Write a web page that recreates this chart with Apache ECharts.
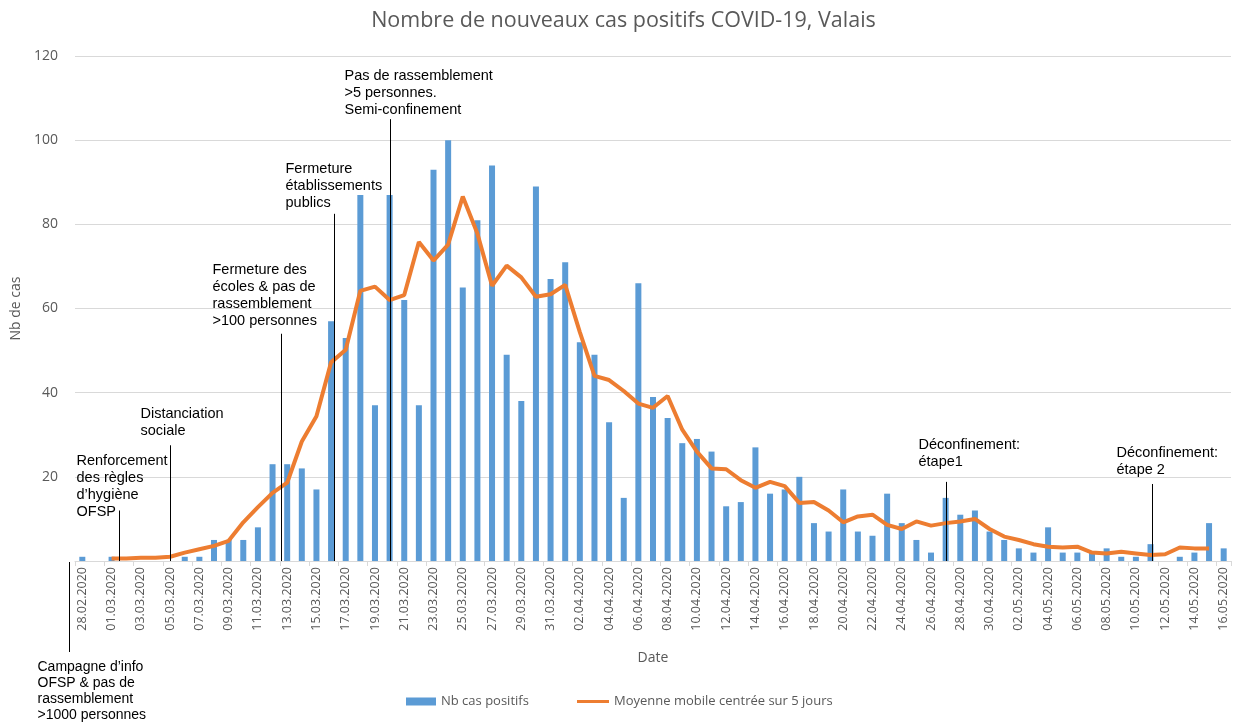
<!DOCTYPE html>
<html>
<head>
<meta charset="utf-8">
<script src="https://cdn.jsdelivr.net/npm/echarts@6/dist/echarts.min.js"></script>
<style>
html,body{margin:0;padding:0;background:#fff;}
#chart{width:1247px;height:722px;}
</style>
</head>
<body>
<div id="chart"></div>
<script>
// ---- Data ----
const dates = [
 "28.02.2020","29.02.2020",
 "01.03.2020","02.03.2020","03.03.2020","04.03.2020","05.03.2020","06.03.2020","07.03.2020","08.03.2020","09.03.2020","10.03.2020",
 "11.03.2020","12.03.2020","13.03.2020","14.03.2020","15.03.2020","16.03.2020","17.03.2020","18.03.2020","19.03.2020","20.03.2020",
 "21.03.2020","22.03.2020","23.03.2020","24.03.2020","25.03.2020","26.03.2020","27.03.2020","28.03.2020","29.03.2020","30.03.2020","31.03.2020",
 "01.04.2020","02.04.2020","03.04.2020","04.04.2020","05.04.2020","06.04.2020","07.04.2020","08.04.2020","09.04.2020","10.04.2020",
 "11.04.2020","12.04.2020","13.04.2020","14.04.2020","15.04.2020","16.04.2020","17.04.2020","18.04.2020","19.04.2020","20.04.2020",
 "21.04.2020","22.04.2020","23.04.2020","24.04.2020","25.04.2020","26.04.2020","27.04.2020","28.04.2020","29.04.2020","30.04.2020",
 "01.05.2020","02.05.2020","03.05.2020","04.05.2020","05.05.2020","06.05.2020","07.05.2020","08.05.2020","09.05.2020","10.05.2020",
 "11.05.2020","12.05.2020","13.05.2020","14.05.2020","15.05.2020","16.05.2020"
];
const newCases = [
 1,0,
 1,0,0,0,0,1,1,5,5,5,
 8,23,23,22,17,57,53,87,37,87,
 62,37,93,100,65,81,94,49,38,89,67,
 71,52,49,33,15,66,39,34,28,29,
 26,13,14,27,16,17,20,9,7,17,
 7,6,16,9,5,2,15,11,12,7,
 5,3,2,8,2,2,2,3,1,1,
 4,0,1,2,9,3
];
const movingAvg = [
 null,null,
 0.6,0.6,0.8,0.8,1.0,2.0,2.8,3.6,4.8,9.2,
 12.8,16.2,18.6,28.4,34.4,47.2,50.2,64.2,65.2,62.0,
 63.2,75.8,71.4,75.2,86.6,77.8,65.4,70.2,67.4,62.8,63.4,
 65.6,54.4,44.0,43.0,40.4,37.4,36.4,39.2,31.2,26.0,
 22.0,21.8,19.2,17.4,18.8,17.8,13.8,14.0,12.0,9.2,
 10.6,11.0,8.6,7.6,9.4,8.4,9.0,9.4,10.0,7.6,
 5.8,5.0,4.0,3.4,3.2,3.4,2.0,1.8,2.2,1.8,
 1.4,1.6,3.2,3.0,3.0,null
];
const yTicks = [0,20,40,60,80,100,120];
const seriesNames = ["Nb cas positifs","Moyenne mobile centrée sur 5 jours"];
const titleText = "Nombre de nouveaux cas positifs COVID-19, Valais";

// annotations: day index (fractional), top value of line, text
const annotations = [
 {day:2.5,  top:12,   text:"Renforcement\ndes règles\nd’hygiène\nOFSP"},
 {day:6.0,  top:27.5, text:"Distanciation\nsociale"},
 {day:13.6, top:54,   text:"Fermeture des\nécoles & pas de\nrassemblement\n>100 personnes"},
 {day:17.2, top:82.5, text:"Fermeture\nétablissements\npublics"},
 {day:21.05,top:105,  text:"Pas de rassemblement\n>5 personnes.\nSemi-confinement"},
 {day:59.0, top:18.8, text:"Déconfinement:\nétape1"},
 {day:73.1, top:18.3, text:"Déconfinement:\nétape 2"}
];
const bottomNote = {day:-0.9, text:"Campagne d’info\nOFSP & pas de\nrassemblement\n>1000 personnes"};

// ---- Layout / style ----
const annLayout = [
 {dx:-43, dy:-58},
 {dx:-30, dy:-40},
 {dx:-69, dy:-72},
 {dx:-49, dy:-53},
 {dx:-46, dy:-52},
 {dx:-28, dy:-45},
 {dx:-36, dy:-39}
];
const GRAY = '#595959';
const FONT = '"Open Sans", sans-serif';
const legendText = {color:GRAY,fontSize:13,fontFamily:FONT};

const chart = echarts.init(document.getElementById('chart'), null, {renderer:'canvas'});
chart.setOption({
  animation:false,
  backgroundColor:'#fff',
  title:{text:titleText,left:'center',top:5,
    textStyle:{color:GRAY,fontSize:21.5,fontWeight:'normal',fontFamily:FONT}},
  grid:{left:75,right:16,top:56,bottom:161,containLabel:false},
  legend:[
    {left:401,bottom:9,itemWidth:30,itemHeight:8,icon:'rect',
      textStyle:legendText,data:[seriesNames[0]]},
    {left:572,bottom:9,itemWidth:32,itemHeight:3,icon:'rect',
      textStyle:legendText,data:[seriesNames[1]]}
  ],
  xAxis:{
    type:'category',data:dates,boundaryGap:true,
    name:'Date',nameLocation:'middle',nameGap:90,
    nameTextStyle:{color:GRAY,fontSize:14,fontFamily:FONT},
    axisLine:{lineStyle:{color:'#d9d9d9'}},
    axisTick:{show:true,interval:1,length:5,lineStyle:{color:'#d9d9d9'}},
    axisLabel:{interval:1,rotate:90,color:GRAY,fontSize:12.5,fontFamily:FONT,margin:6}
  },
  yAxis:{
    type:'value',min:yTicks[0],max:yTicks[yTicks.length-1],interval:20,
    name:'Nb de cas',nameLocation:'middle',nameGap:50,
    nameTextStyle:{color:GRAY,fontSize:14,fontFamily:FONT},
    axisLine:{show:false},axisTick:{show:false},
    axisLabel:{color:GRAY,fontSize:14,fontFamily:FONT,margin:17,
      formatter:v=> v===0 ? '' : String(v)},
    splitLine:{lineStyle:{color:'#d9d9d9',width:1}}
  },
  series:[
    {name:seriesNames[0],type:'bar',data:newCases,barWidth:6,
      itemStyle:{color:'#5B9BD5'}},
    {name:seriesNames[1],type:'line',data:movingAvg,symbol:'none',showSymbol:false,
      connectNulls:false,lineStyle:{color:'#ED7D31',width:4},itemStyle:{color:'#ED7D31'},
      z:3}
  ]
});

function dayToX(d){
  const p0 = chart.convertToPixel({xAxisIndex:0}, 0);
  const p1 = chart.convertToPixel({xAxisIndex:0}, 1);
  return p0 + d*(p1-p0);
}
function valToY(v){ return chart.convertToPixel({yAxisIndex:0}, v); }

const graphics = [];
annotations.forEach((a,i)=>{
  const x = Math.round(dayToX(a.day))+0.5;
  const yTop = valToY(a.top);
  const yBot = valToY(0);
  graphics.push({type:'line',z:100,shape:{x1:x,y1:yTop,x2:x,y2:yBot},
    style:{stroke:'#000',lineWidth:1}});
  graphics.push({type:'text',z:100,x:x+annLayout[i].dx,y:yTop+annLayout[i].dy,
    style:{text:a.text,fill:'#000',fontSize:14.5,lineHeight:17,
      fontFamily:'"Liberation Sans", Arial, sans-serif',verticalAlign:'top',align:'left'}});
});
{
  const x = Math.round(dayToX(bottomNote.day))+0.5;
  const y0 = valToY(0);
  graphics.push({type:'line',z:100,shape:{x1:x,y1:y0+1,x2:x,y2:y0+91},
    style:{stroke:'#000',lineWidth:1}});
  graphics.push({type:'text',z:100,x:x-32,y:y0+98,
    style:{text:bottomNote.text,fill:'#000',fontSize:14,lineHeight:16,
      fontFamily:'"Liberation Sans Narrow", "Liberation Sans", Arial, sans-serif',verticalAlign:'top',align:'left'}});
}
chart.setOption({graphic:graphics});
</script>
</body>
</html>
